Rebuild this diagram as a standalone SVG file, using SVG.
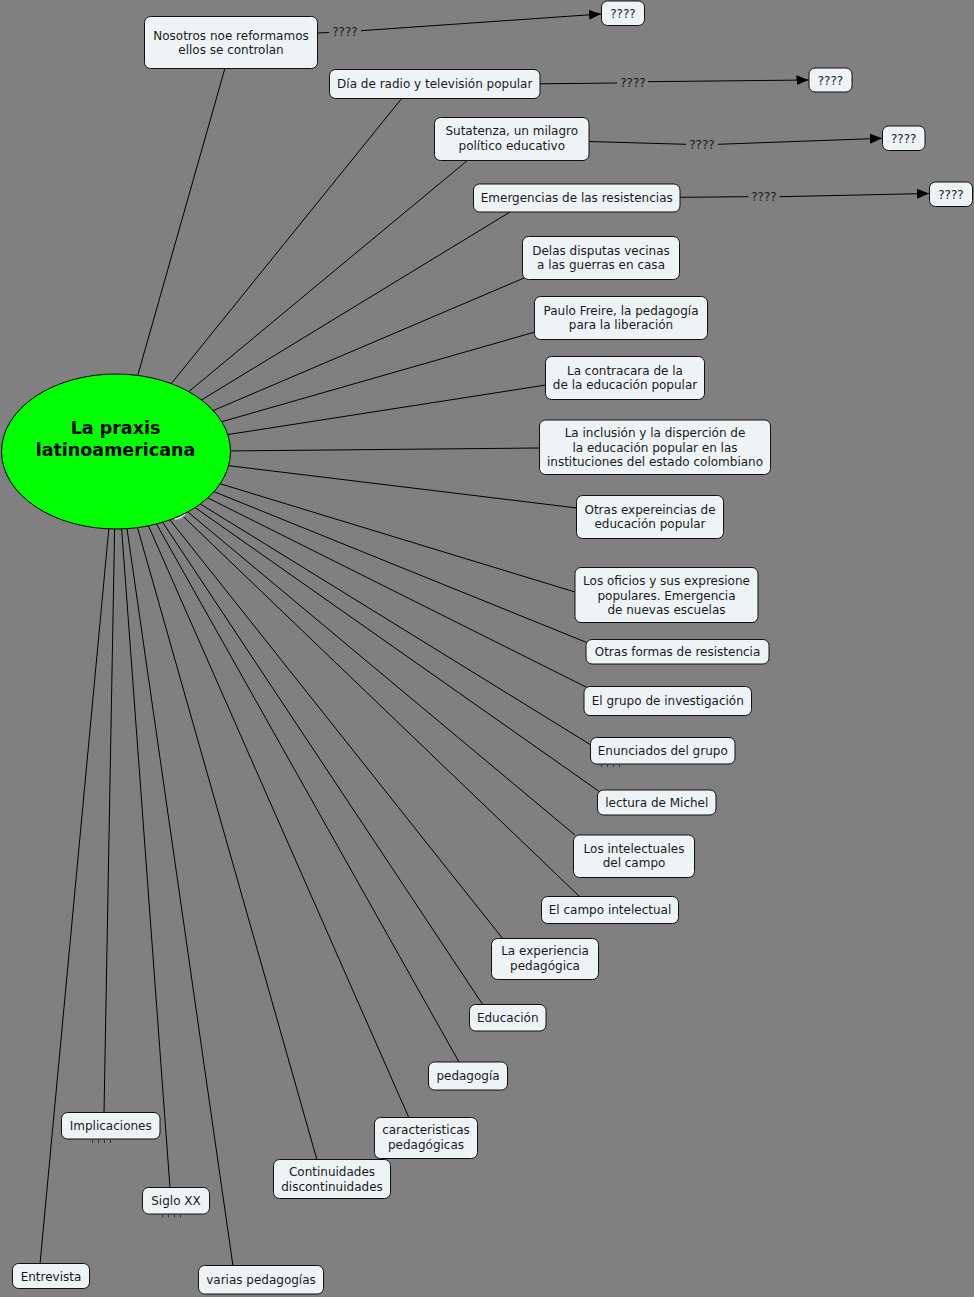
<svg xmlns="http://www.w3.org/2000/svg" width="974" height="1297" viewBox="0 0 974 1297">
<style>
.bg{fill:#808080}
.n rect{fill:#eef4f6;stroke:#111;stroke-width:1}
.n text,.lbl{font-family:"DejaVu Sans",Verdana,sans-serif;font-size:12px;fill:#1a1a1a;text-anchor:middle}
.e line,.e polyline{stroke:#000;stroke-width:1;fill:none}
.t{font-family:"DejaVu Sans",Verdana,sans-serif;font-size:17.5px;font-weight:bold;fill:#000;text-anchor:middle}
.dots{stroke:#333;stroke-width:3;stroke-dasharray:1 5;fill:none}
</style>
<defs>
<marker id="ah" markerWidth="12" markerHeight="10" refX="12" refY="5" orient="auto" markerUnits="userSpaceOnUse">
<path d="M0,0 L12,5 L0,10 Z" fill="#000"/>
</marker>
</defs>
<rect class="bg" x="0" y="0" width="974" height="1297"/>
<g id="connectors" class="e">
<line x1="116" y1="452" x2="225" y2="68"/>
<line x1="116" y1="452" x2="402" y2="98"/>
<line x1="116" y1="452" x2="468" y2="160"/>
<line x1="116" y1="452" x2="510" y2="212"/>
<line x1="116" y1="452" x2="524" y2="278"/>
<line x1="116" y1="452" x2="535" y2="332"/>
<line x1="116" y1="452" x2="546" y2="385"/>
<line x1="116" y1="452" x2="540" y2="448"/>
<line x1="116" y1="452" x2="577" y2="508"/>
<line x1="116" y1="452" x2="575" y2="592"/>
<line x1="116" y1="452" x2="588" y2="643"/>
<line x1="116" y1="452" x2="588" y2="688"/>
<line x1="116" y1="452" x2="591" y2="745"/>
<line x1="116" y1="452" x2="600" y2="792"/>
<line x1="116" y1="452" x2="575" y2="835"/>
<line x1="116" y1="452" x2="580" y2="897"/>
<line x1="116" y1="452" x2="503" y2="939"/>
<line x1="116" y1="452" x2="483" y2="1005"/>
<line x1="116" y1="452" x2="459" y2="1062"/>
<line x1="116" y1="452" x2="409" y2="1118"/>
<line x1="116" y1="452" x2="317" y2="1160"/>
<line x1="116" y1="452" x2="104" y2="1113"/>
<line x1="116" y1="452" x2="170" y2="1188"/>
<line x1="116" y1="452" x2="40" y2="1264"/>
<line x1="116" y1="452" x2="233" y2="1266"/>
<line x1="317" y1="33" x2="329" y2="32.5"/>
<line x1="361" y1="30.7" x2="601" y2="14" marker-end="url(#ah)"/>
<line x1="540" y1="83.8" x2="617" y2="83"/>
<line x1="648" y1="81.7" x2="808.5" y2="80" marker-end="url(#ah)"/>
<line x1="589" y1="141.5" x2="686" y2="144.3"/>
<line x1="718" y1="144.3" x2="882" y2="138.3" marker-end="url(#ah)"/>
<line x1="680" y1="197.3" x2="748.5" y2="196.7"/>
<line x1="779.5" y1="196.7" x2="929" y2="193.5" marker-end="url(#ah)"/>
<text class="lbl" x="345" y="35.5">????</text>
<text class="lbl" x="633" y="86.5">????</text>
<text class="lbl" x="702" y="148.5">????</text>
<text class="lbl" x="764" y="200.5">????</text>
</g>
<g id="center">
<path d="M175,519 Q181,518 185,514" stroke="#fff" stroke-width="1.5" fill="none"/>
<ellipse cx="116" cy="451.5" rx="114.5" ry="77.5" fill="#00ff00" stroke="#000" stroke-width="1"/>
<text class="t" x="115.5" y="434">La praxis</text>
<text class="t" x="115.5" y="456">latinoamericana</text>
</g>
<g id="n1" class="n"><rect x="144.5" y="16.5" width="173" height="52" rx="6"/><text x="231" y="39.5">Nosotros noe reformamos</text><text x="231" y="54">ellos se controlan</text></g>
<g id="q1" class="n"><rect x="601.5" y="1" width="43" height="24.5" rx="6"/><text x="623" y="17.5">????</text></g>
<g id="n2" class="n"><rect x="329.5" y="69.5" width="210.5" height="29" rx="6"/><text x="434.75" y="88">Día de radio y televisión popular</text></g>
<g id="q2" class="n"><rect x="809" y="68" width="43" height="24" rx="6"/><text x="830.5" y="84.5">????</text></g>
<g id="n3" class="n"><rect x="434.5" y="117.5" width="154.5" height="43" rx="6"/><text x="511.75" y="135">Sutatenza, un milagro</text><text x="511.75" y="149.5">político educativo</text></g>
<g id="q3" class="n"><rect x="882.5" y="126" width="42.5" height="24.5" rx="6"/><text x="903.75" y="142.5">????</text></g>
<g id="n4" class="n"><rect x="473.5" y="184" width="206.5" height="28" rx="6"/><text x="576.75" y="202">Emergencias de las resistencias</text></g>
<g id="q4" class="n"><rect x="929.5" y="182" width="43" height="24.5" rx="6"/><text x="951" y="198.5">????</text></g>
<g id="n5" class="n"><rect x="522.5" y="236.5" width="157" height="43" rx="6"/><text x="601" y="254.5">Delas disputas vecinas</text><text x="601" y="269">a las guerras en casa</text></g>
<g id="n6" class="n"><rect x="534.5" y="296.5" width="173" height="43" rx="6"/><text x="621" y="314.5">Paulo Freire, la pedagogía</text><text x="621" y="329">para la liberación</text></g>
<g id="n7" class="n"><rect x="545.5" y="356.5" width="159" height="43" rx="6"/><text x="625" y="374.5">La contracara de la</text><text x="625" y="389">de la educación popular</text></g>
<g id="n8" class="n"><rect x="539.5" y="420" width="231" height="54.5" rx="6"/><text x="655" y="437">La inclusión y la disperción de</text><text x="655" y="451.5">la educación popular en las</text><text x="655" y="466">instituciones del estado colombiano</text></g>
<g id="n9" class="n"><rect x="576.5" y="495.5" width="147" height="43" rx="6"/><text x="650" y="513.5">Otras expereincias de</text><text x="650" y="528">educación popular</text></g>
<g id="n10" class="n"><rect x="575" y="567.5" width="183" height="55" rx="6"/><text x="666.5" y="585">Los oficios y sus expresione</text><text x="666.5" y="599.5">populares. Emergencia</text><text x="666.5" y="614">de nuevas escuelas</text></g>
<g id="n11" class="n"><rect x="586" y="639.5" width="183" height="24.5" rx="6"/><text x="677.5" y="656">Otras formas de resistencia</text></g>
<g id="n12" class="n"><rect x="584" y="686.5" width="167.5" height="29" rx="6"/><text x="667.75" y="705">El grupo de investigación</text></g>
<g id="n13" class="n"><rect x="590.5" y="737.5" width="144.5" height="26.5" rx="6"/><text x="662.75" y="755">Enunciados del grupo</text><path class="dots" d="M601,765.5 H621"/></g>
<g id="n14" class="n"><rect x="597.5" y="790" width="118.5" height="25" rx="6"/><text x="656.75" y="807">lectura de Michel</text></g>
<g id="n15" class="n"><rect x="573.5" y="835" width="121" height="42.5" rx="6"/><text x="634" y="852.5">Los intelectuales</text><text x="634" y="867">del campo</text></g>
<g id="n16" class="n"><rect x="541.5" y="896.5" width="137" height="27" rx="6"/><text x="610" y="914">El campo intelectual</text></g>
<g id="n17" class="n"><rect x="491.5" y="938.5" width="107" height="41" rx="6"/><text x="545" y="955">La experiencia</text><text x="545" y="969.5">pedagógica</text></g>
<g id="n18" class="n"><rect x="469.5" y="1004.5" width="76.5" height="26.5" rx="6"/><text x="507.75" y="1022">Educación</text></g>
<g id="n19" class="n"><rect x="428.5" y="1062" width="79" height="28" rx="6"/><text x="468" y="1080">pedagogía</text></g>
<g id="n20" class="n"><rect x="374.5" y="1117.5" width="103" height="41" rx="6"/><text x="426" y="1134">caracteristicas</text><text x="426" y="1148.5">pedagógicas</text></g>
<g id="n21" class="n"><rect x="273.5" y="1159.5" width="117" height="39" rx="6"/><text x="332" y="1176">Continuidades</text><text x="332" y="1190.5">discontinuidades</text></g>
<g id="n22" class="n"><rect x="61.5" y="1112.5" width="98.5" height="26.5" rx="6"/><text x="110.75" y="1130">Implicaciones</text><path class="dots" d="M92,1141.5 H112"/></g>
<g id="n23" class="n"><rect x="142.5" y="1187.5" width="67" height="26.5" rx="6"/><text x="176" y="1205">Siglo XX</text><path class="dots" d="M162,1216 H182"/></g>
<g id="n24" class="n"><rect x="12.5" y="1263.5" width="77" height="25" rx="6"/><text x="51" y="1281">Entrevista</text></g>
<g id="n25" class="n"><rect x="198.5" y="1265.5" width="125" height="28.5" rx="6"/><text x="261" y="1284">varias pedagogías</text></g>
</svg>
